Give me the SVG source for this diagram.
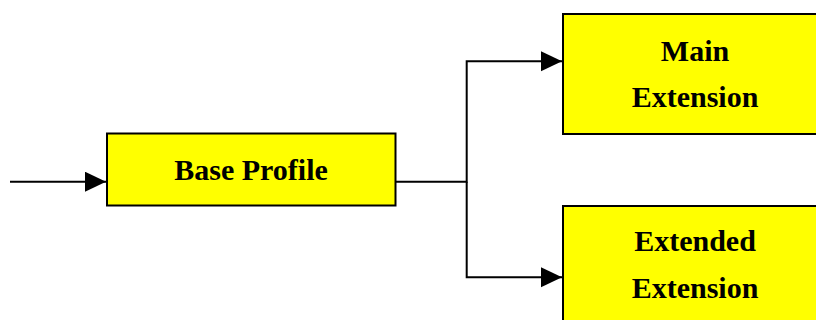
<svg xmlns="http://www.w3.org/2000/svg" width="816" height="320" viewBox="0 0 816 320">
<style>
.box{fill:#ffff00;stroke:#000;stroke-width:2}
.lbl{font-family:"Liberation Serif","Times New Roman",serif;font-weight:bold;font-size:30px;fill:#000;text-anchor:middle}
.con{fill:none;stroke:#000;stroke-width:2}
</style>
<defs>
<marker id="arr" markerUnits="userSpaceOnUse" markerWidth="22" markerHeight="22" refX="21" refY="10" orient="auto">
<path d="M0,0 L21,10 L0,20 Z" fill="#000"/>
</marker>
</defs>
<rect width="816" height="320" fill="#fff"/>
<g id="connectors">
<path class="con" d="M10,181.7 H106" marker-end="url(#arr)"/>
<path class="con" d="M396,181.7 H466.7 V61.3 H562" marker-end="url(#arr)"/>
<path class="con" d="M466.7,181.7 V277.3 H562" marker-end="url(#arr)"/>
</g>
<g id="base">
<rect class="box" x="107" y="133.5" width="288.5" height="72"/>
<text class="lbl" x="251" y="180">Base Profile</text>
</g>
<g id="main">
<rect class="box" x="563" y="14" width="264" height="120"/>
<text class="lbl" x="695" y="60.5">Main</text>
<text class="lbl" x="695" y="107">Extension</text>
</g>
<g id="extended">
<rect class="box" x="563" y="206" width="264" height="120"/>
<text class="lbl" x="695" y="251">Extended</text>
<text class="lbl" x="695" y="298">Extension</text>
</g>
</svg>
